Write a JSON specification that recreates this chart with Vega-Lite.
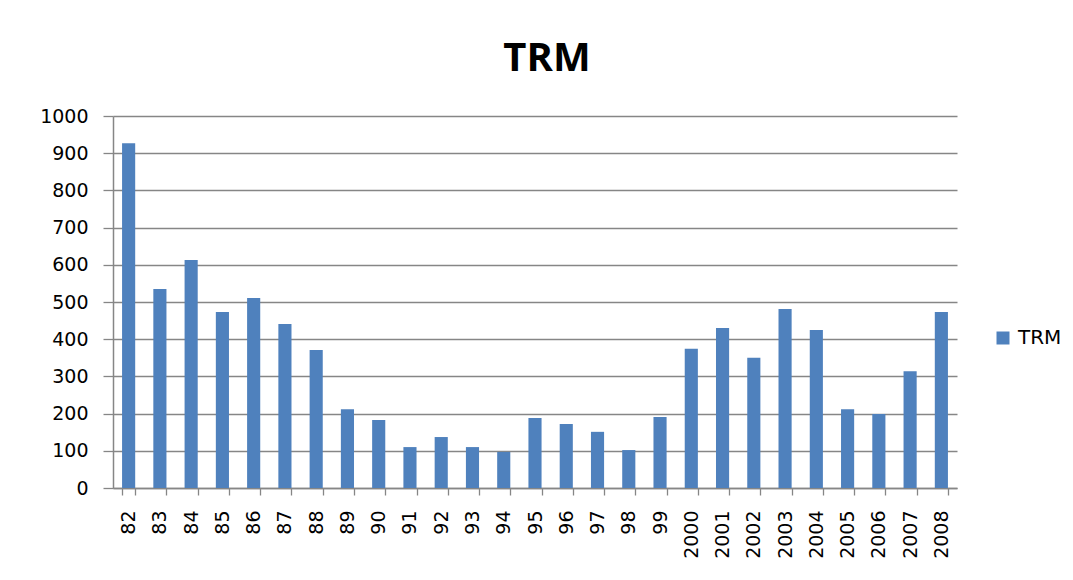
{
  "$schema": "https://vega.github.io/schema/vega-lite/v6.json",
  "width": 844,
  "height": 372,
  "autosize": {"type": "none"},
  "padding": {"left": 113, "top": 116, "right": 116, "bottom": 92},
  "background": "white",
  "title": {
    "text": "TRM",
    "font": "Open Sans",
    "fontWeight": "bold",
    "fontSize": 40,
    "color": "#000000",
    "anchor": "middle",
    "dx": 12,
    "offset": 28
  },
  "data": {
    "values": [
      {"year": "82", "series": "TRM", "value": 927},
      {"year": "83", "series": "TRM", "value": 535},
      {"year": "84", "series": "TRM", "value": 613},
      {"year": "85", "series": "TRM", "value": 473},
      {"year": "86", "series": "TRM", "value": 511},
      {"year": "87", "series": "TRM", "value": 441},
      {"year": "88", "series": "TRM", "value": 371},
      {"year": "89", "series": "TRM", "value": 212},
      {"year": "90", "series": "TRM", "value": 183},
      {"year": "91", "series": "TRM", "value": 110},
      {"year": "92", "series": "TRM", "value": 137},
      {"year": "93", "series": "TRM", "value": 110},
      {"year": "94", "series": "TRM", "value": 97},
      {"year": "95", "series": "TRM", "value": 188},
      {"year": "96", "series": "TRM", "value": 172},
      {"year": "97", "series": "TRM", "value": 151},
      {"year": "98", "series": "TRM", "value": 102},
      {"year": "99", "series": "TRM", "value": 191},
      {"year": "2000", "series": "TRM", "value": 374},
      {"year": "2001", "series": "TRM", "value": 430},
      {"year": "2002", "series": "TRM", "value": 350},
      {"year": "2003", "series": "TRM", "value": 481},
      {"year": "2004", "series": "TRM", "value": 425},
      {"year": "2005", "series": "TRM", "value": 212},
      {"year": "2006", "series": "TRM", "value": 199},
      {"year": "2007", "series": "TRM", "value": 314},
      {"year": "2008", "series": "TRM", "value": 473}
    ]
  },
  "mark": {"type": "bar"},
  "encoding": {
    "x": {
      "field": "year",
      "type": "ordinal",
      "sort": null,
      "scale": {"paddingInner": 0.58, "paddingOuter": 0.29},
      "axis": {
        "title": null,
        "labelAngle": -90,
        "labelFont": "DejaVu Sans",
        "labelFontSize": 19,
        "labelColor": "#000000",
        "labelPadding": 15,
        "tickBand": "extent",
        "tickSize": 7,
        "tickColor": "#868686",
        "tickWidth": 1.3,
        "domainColor": "#868686",
        "domainWidth": 1.5,
        "grid": false
      }
    },
    "y": {
      "field": "value",
      "type": "quantitative",
      "scale": {"domain": [0, 1000], "nice": false},
      "axis": {
        "title": null,
        "values": [0, 100, 200, 300, 400, 500, 600, 700, 800, 900, 1000],
        "format": "d",
        "labelFont": "DejaVu Sans",
        "labelFontSize": 19,
        "labelColor": "#000000",
        "labelPadding": 15,
        "tickSize": 10,
        "tickColor": "#868686",
        "tickWidth": 1.3,
        "domainColor": "#868686",
        "domainWidth": 1.5,
        "grid": true,
        "gridColor": "#868686",
        "gridWidth": 1.3
      }
    },
    "color": {
      "field": "series",
      "type": "nominal",
      "scale": {"range": ["#4F81BD"]},
      "legend": {
        "title": null,
        "orient": "none",
        "legendX": 880,
        "legendY": 212,
        "symbolType": "square",
        "symbolSize": 169,
        "symbolStrokeWidth": 0,
        "symbolOpacity": 1,
        "labelFont": "DejaVu Sans",
        "labelFontSize": 20,
        "labelColor": "#000000",
        "labelOffset": 5,
        "padding": 0
      }
    }
  },
  "config": {
    "view": {"stroke": null},
    "axis": {"labelBound": false}
  }
}
